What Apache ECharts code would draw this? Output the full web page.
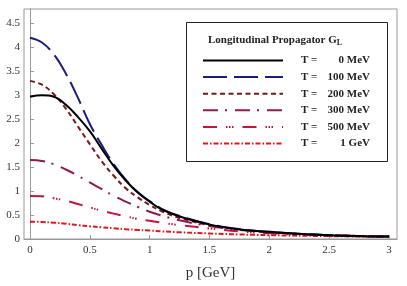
<!DOCTYPE html>
<html><head><meta charset="utf-8">
<script src="https://cdn.jsdelivr.net/npm/echarts@6/dist/echarts.min.js"></script>
<style>html,body{margin:0;padding:0;background:#fff}#c{width:407px;height:286px}</style>
</head><body><div id="c"></div>
<script>
const pGrid = [0,0.1,0.2,0.3,0.4,0.5,0.6,0.7,0.8,0.9,1.0,1.1,1.25,1.5,1.75,2,2.5,3];
const g0   = [2.97,3.0,2.97,2.8,2.55,2.25,1.88,1.52,1.22,0.97,0.78,0.62,0.47,0.3,0.2,0.15,0.08,0.05];
const g100 = [4.2,4.1,3.85,3.45,2.95,2.4,1.96,1.56,1.24,0.98,0.79,0.63,0.48,0.31,0.21,0.15,0.08,0.05];
const g200 = [3.3,3.22,3.02,2.72,2.35,1.98,1.62,1.32,1.06,0.87,0.71,0.58,0.44,0.29,0.2,0.14,0.08,0.05];
const g300 = [1.65,1.63,1.56,1.45,1.32,1.18,1.04,0.9,0.78,0.67,0.57,0.49,0.39,0.27,0.19,0.14,0.08,0.05];
const g500 = [0.9,0.89,0.85,0.8,0.73,0.66,0.59,0.53,0.47,0.42,0.38,0.34,0.29,0.22,0.16,0.12,0.07,0.05];
const g1G  = [0.36,0.355,0.34,0.32,0.29,0.265,0.245,0.225,0.205,0.19,0.175,0.16,0.14,0.115,0.095,0.08,0.06,0.045];
const seriesNames = ['T =    0 MeV','T = 100 MeV','T = 200 MeV','T = 300 MeV','T = 500 MeV','T =    1 GeV'];
const xTicks = [0,0.5,1,1.5,2,2.5,3];
const yTicks = [0,0.5,1,1.5,2,2.5,3,3.5,4,4.5];

const vals = [g0,g100,g200,g300,g500,g1G];
const colors = ['#000000','#1c1c7e','#7a1818','#8c1c4c','#c4163a','#e4141c'];
const dashes = ['solid',[24,7],[5,3.5],[15,7,2,8],[14,9,1.5,1.5,1.5,1.5,1.5,9],[5,2,1.5,2]];
const FONT = 'Liberation Serif';

const series = vals.map((v,i)=>({
  name: seriesNames[i], type:'line', smooth:0.4, symbol:'none',
  data: pGrid.map((p,j)=>[p,v[j]]),
  lineStyle:{color:colors[i], width:2, type:dashes[i]},
  itemStyle:{color:colors[i]}, z: 10-i
}));

const chart = echarts.init(document.getElementById('c'));
chart.setOption({
  animation:false,
  grid:{left:24,right:10,top:9,bottom:47,show:true,borderColor:'#999',borderWidth:1},
  xAxis:{type:'value',min:-0.05,max:3.067,
    name:'p [GeV]',nameLocation:'middle',nameGap:27,
    nameTextStyle:{fontFamily:FONT,fontSize:15,color:'#333'},
    axisLine:{show:true,lineStyle:{color:'#999'}},
    axisTick:{show:true,inside:true,length:4,lineStyle:{color:'#999'},customValues:xTicks},
    axisLabel:{fontFamily:FONT,fontSize:11,color:'#333',customValues:xTicks,margin:6},
    splitLine:{show:false}},
  yAxis:{type:'value',min:0,max:4.8,
    axisLine:{show:true,lineStyle:{color:'#999'}},
    axisTick:{show:true,inside:true,length:4,lineStyle:{color:'#999'},customValues:yTicks},
    axisLabel:{fontFamily:FONT,fontSize:11,color:'#333',customValues:yTicks,margin:4},
    splitLine:{show:false}},
  legend:{orient:'vertical',left:202,top:55,itemWidth:80,itemHeight:12,itemGap:5.6,z:30,
    padding:0,itemStyle:{opacity:0},
    formatter:function(n){const m=n.match(/^T =\s*(.*)$/);return '{a|T =}{b|'+m[1]+'}';},
    textStyle:{fontFamily:FONT,fontSize:11,fontWeight:'bold',color:'#222',
      rich:{a:{fontFamily:FONT,fontSize:11,fontWeight:'bold',color:'#222',width:22,padding:[0,0,0,13]},
            b:{fontFamily:FONT,fontSize:11,fontWeight:'bold',color:'#222',width:47,align:'right'}}},
    data:seriesNames},
  graphic:[
    {type:'rect',shape:{x:186.5,y:22.5,width:201,height:139},style:{fill:'#fff',stroke:'#222',lineWidth:1},z:1},
    {type:'text',x:208,y:33,z:21,style:{text:'{a|Longitudinal Propagator G}{s|L}',
      rich:{a:{fontFamily:FONT,fontSize:11,fontWeight:'bold',fill:'#222'},
            s:{fontFamily:FONT,fontSize:8,fontWeight:'bold',fill:'#222',padding:[6,0,0,0]}}}}
  ],
  series:series
});
</script></body></html>
